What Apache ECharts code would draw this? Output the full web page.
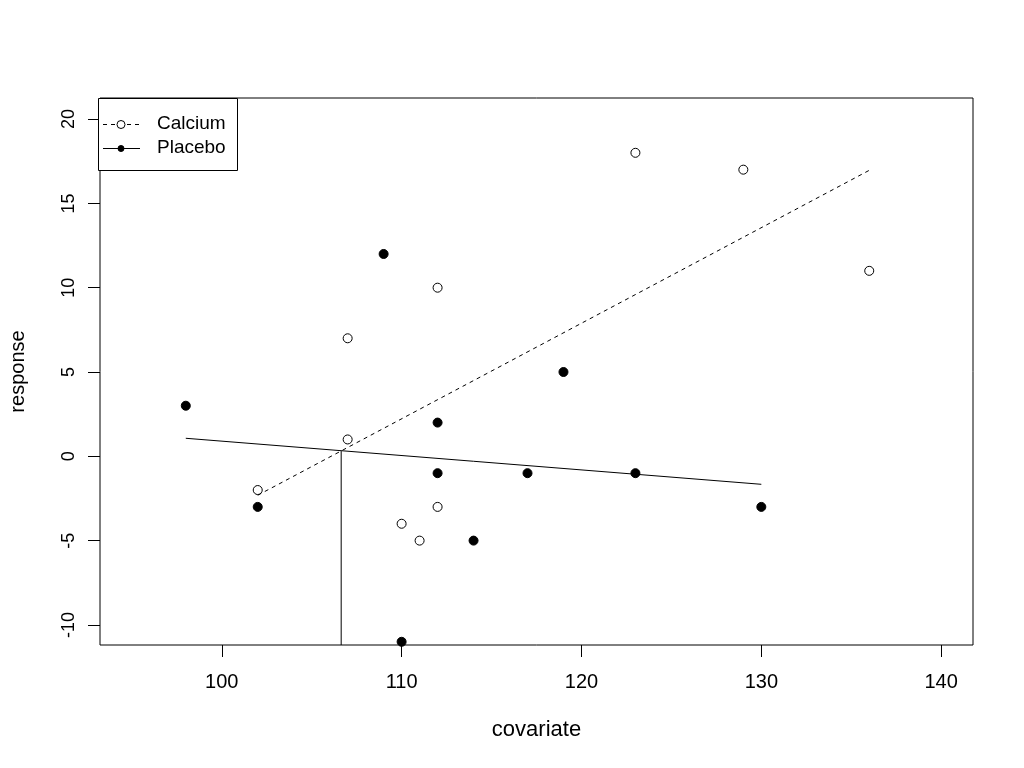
<!DOCTYPE html>
<html><head><meta charset="utf-8">
<script src="https://cdn.jsdelivr.net/npm/echarts@6/dist/echarts.min.js"></script>
<style>html,body{margin:0;padding:0;background:#fff}#c{width:1024px;height:768px}</style>
</head><body><div id="c"></div>
<script>
const calciumX = [102,107,107,110,111,112,112,123,129,136];
const calciumY = [-2,1,7,-4,-5,-3,10,18,17,11];
const placeboX = [98,102,109,110,112,112,114,117,119,123,130];
const placeboY = [3,-3,12,-11,2,-1,-5,-1,5,-1,-3];
const calciumFitX = [102,136];
const calciumFitY = [-2.31,16.96];
const placeboFitX = [98,130];
const placeboFitY = [1.07,-1.66];
const dropX = [106.64,106.64];
const dropY = [0.31,-11.19];
const xTicks = [100,110,120,130,140];
const yTicks = [-10,-5,0,5,10,15,20];

const zip = (a,b)=>a.map((v,i)=>[v,b[i]]);
const FONT = 'Liberation Sans, Arial, sans-serif';
const chart = echarts.init(document.getElementById('c'), null, {renderer:'canvas'});
chart.setOption({
  animation:false,
  backgroundColor:'#fff',
  grid:{left:98,right:51,top:98,bottom:123,show:true,borderColor:'#000',borderWidth:1,backgroundColor:'transparent'},
  xAxis:{type:'value',min:93.23,max:141.77,
    name:'covariate',nameLocation:'middle',nameGap:74,
    nameTextStyle:{fontFamily:FONT,fontSize:22,color:'#000'},
    axisLine:{show:false,onZero:false},splitLine:{show:false},
    axisTick:{show:true,customValues:xTicks,length:12,inside:false,lineStyle:{color:'#000'}},
    axisLabel:{customValues:xTicks,fontFamily:FONT,fontSize:20,color:'#000',margin:27}},
  yAxis:{type:'value',min:-11.19,max:21.25,
    name:'response',nameLocation:'middle',nameGap:72,
    nameTextStyle:{fontFamily:FONT,fontSize:20,color:'#000'},
    axisLine:{show:false,onZero:false},splitLine:{show:false},
    axisTick:{show:true,customValues:yTicks,length:12,lineStyle:{color:'#000'}},
    axisLabel:{customValues:yTicks,rotate:90,fontFamily:FONT,fontSize:18,color:'#000',margin:22}},
  series:[
    {type:'line',data:zip(calciumFitX,calciumFitY),symbol:'none',lineStyle:{color:'#000',width:1,type:[4,4]},silent:true},
    {type:'line',data:zip(placeboFitX,placeboFitY),symbol:'none',lineStyle:{color:'#000',width:1},silent:true},
    {type:'line',data:zip(dropX,dropY),symbol:'none',lineStyle:{color:'#000',width:1},silent:true},
    {type:'scatter',name:'Calcium',data:zip(calciumX,calciumY),symbol:'circle',symbolSize:9,
      itemStyle:{color:'#fff',borderColor:'#000',borderWidth:1,opacity:1}},
    {type:'scatter',name:'Placebo',data:zip(placeboX,placeboY),symbol:'circle',symbolSize:9,
      itemStyle:{color:'#000',borderColor:'#000',borderWidth:1,opacity:1}}
  ],
  graphic:[
    {type:'rect',shape:{x:98.5,y:98.5,width:139,height:72},style:{fill:'#fff',stroke:'#000',lineWidth:1},z:100},
    {type:'line',shape:{x1:103,y1:124.5,x2:140,y2:124.5},style:{stroke:'#000',lineWidth:1,lineDash:[4,4]},z:101},
    {type:'circle',shape:{cx:121,cy:124.5,r:4},style:{fill:'#fff',stroke:'#000',lineWidth:1},z:102},
    {type:'text',x:157,y:124,style:{text:'Calcium',font:'19px '+FONT,fill:'#000',verticalAlign:'middle'},z:102},
    {type:'line',shape:{x1:103,y1:148.5,x2:140,y2:148.5},style:{stroke:'#000',lineWidth:1},z:101},
    {type:'circle',shape:{cx:121,cy:148.5,r:3},style:{fill:'#000',stroke:'#000',lineWidth:1},z:102},
    {type:'text',x:157,y:148,style:{text:'Placebo',font:'19px '+FONT,fill:'#000',verticalAlign:'middle'},z:102}
  ]
});
</script></body></html>
